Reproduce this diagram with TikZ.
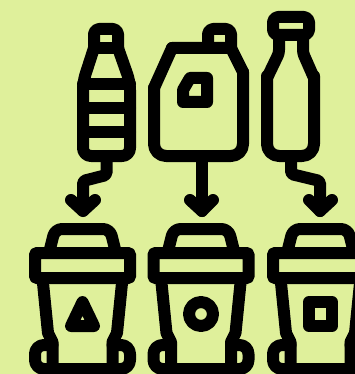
\documentclass[tikz,border=0pt]{standalone}
\definecolor{bgc}{RGB}{223,240,155}
\tikzset{
  icon/.style={draw=black,line width=12pt,line join=round,line cap=round},
  pics/binicon/.style={code={
    % handle
    \draw[icon,rounded corners=7pt] (49,253) -- (55,229) -- (110,229) -- (116,253);
    % lid band
    \draw[icon,rounded corners=1pt] (35,253) rectangle (130,278);
    % body
    \draw[icon,line cap=butt] (42.5,278) -- (48,333) -- (52.5,342) -- (52.5,369) -- (112.5,369) -- (112.5,342) -- (117,333) -- (122.5,278);
    % wheels
    \draw[icon,rounded corners=9pt] (52.5,345) -- (35,345) -- (35,369) -- (52.5,369);
    \draw[icon,rounded corners=9pt] (112.5,345) -- (130,345) -- (130,369) -- (112.5,369);
  }}
}
\begin{document}
\begin{tikzpicture}[x=1pt,y=-1pt]
\useasboundingbox (0,0) rectangle (355,374);
\fill[bgc] (0,0) rectangle (355,374);
\clip (0,0) rectangle (355,374);
% striped bottle
\draw[icon,rounded corners=5pt] (94,48) -- (94,29) -- (118,29) -- (118,48);
\draw[icon] (94,48) -- (118,48);
\draw[icon,rounded corners=8pt] (94,48) -- (83,82) -- (83,156) -- (130,156) -- (130,82) -- (118,48);
\draw[icon] (83,84) -- (130,84) (83,108) -- (130,108) (83,132) -- (130,132);
% jug
\draw[icon,rounded corners=5pt] (208,48) -- (208,29) -- (231,29) -- (231,48);
\draw[icon] (172,48) -- (231,48) -- (243,72);
\draw[icon] (172,48) -- (154,88);
\draw[icon,rounded corners=12pt] (154,88) -- (154,156) -- (243,156) -- (243,72);
\draw[icon] (183,102) -- (207,102) -- (207,78) -- (190,78) -- (183,90) -- cycle;
% milk bottle
\draw[icon,rounded corners=5pt] (273,17) rectangle (309,35);
\draw[icon,rounded corners=3pt] (279,35) -- (279,53) -- (267,78);
\draw[icon,rounded corners=3pt] (303,35) -- (303,53) -- (314,78);
\draw[icon,rounded corners=12pt] (267,76) -- (267,156) -- (314,156) -- (314,76);
% arrows
\draw[icon,rounded corners=2pt] (106.5,156) -- (106.5,175) -- (83,181) -- (83,211);
\draw[icon] (71,200) -- (83,211) -- (95,200);
\draw[icon] (202,156) -- (202,211);
\draw[icon] (190,200) -- (202,211) -- (213,200);
\draw[icon,rounded corners=2pt] (291,156) -- (291,174) -- (320,181) -- (320,211);
\draw[icon] (309,200) -- (320,211) -- (332,200);
% bins
\pic at (0,0) {binicon};
\pic at (118.5,0) {binicon};
\pic at (238,0) {binicon};
% bin symbols
\draw[icon] (82.5,302) -- (94,326) -- (71,326) -- cycle;
\draw[icon] (201,314) circle (12);
\draw[icon] (309,302) rectangle (332,326);
\end{tikzpicture}
\end{document}
